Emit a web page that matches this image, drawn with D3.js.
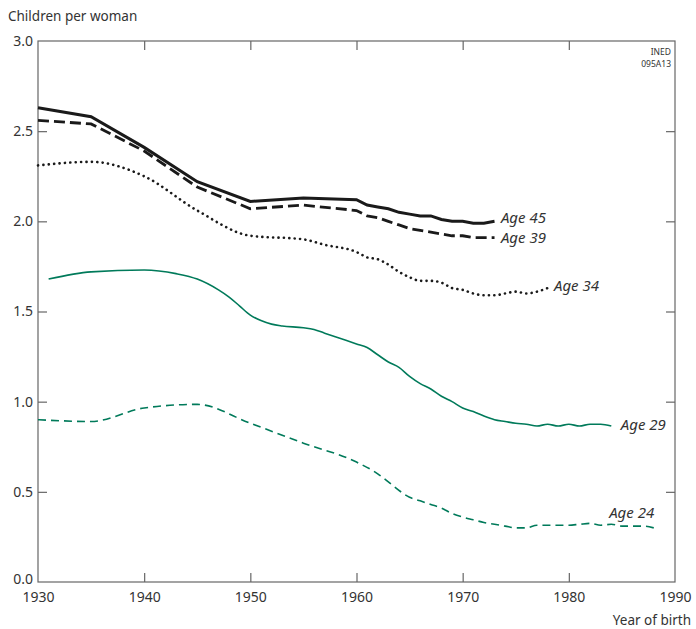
<!DOCTYPE html>
<html>
<head>
<meta charset="utf-8">
<script src="https://cdn.jsdelivr.net/npm/d3@7"></script>
<style>
  body { margin: 0; background: #fff; }
  text { font-family: "Noto Sans", "Open Sans", sans-serif; fill: #333; }
  .label { font-style: italic; font-size: 15px; }
</style>
</head>
<body>
<script>
// Data
var age45Years = [1930, 1935, 1940, 1945, 1950, 1955, 1960, 1961, 1962, 1963, 1964, 1965, 1966, 1967, 1968, 1969, 1970, 1971, 1972, 1973];
var age45Values = [2.63, 2.58, 2.41, 2.22, 2.11, 2.13, 2.12, 2.09, 2.08, 2.07, 2.05, 2.04, 2.03, 2.03, 2.01, 2.00, 2.00, 1.99, 1.99, 2.00];

var age39Years = [1930, 1935, 1940, 1945, 1950, 1955, 1960, 1961, 1962, 1963, 1964, 1965, 1966, 1967, 1968, 1969, 1970, 1971, 1972, 1973];
var age39Values = [2.56, 2.54, 2.39, 2.19, 2.07, 2.09, 2.06, 2.03, 2.02, 2.00, 1.98, 1.96, 1.95, 1.94, 1.93, 1.92, 1.92, 1.91, 1.91, 1.91];

var age34Years = [1930, 1935, 1940, 1945, 1950, 1955, 1957, 1960, 1961, 1962, 1963, 1964, 1965, 1966, 1967, 1968, 1969, 1970, 1971, 1972, 1973, 1974, 1975, 1976, 1977, 1978];
var age34Values = [2.31, 2.33, 2.25, 2.06, 1.92, 1.90, 1.87, 1.83, 1.80, 1.79, 1.76, 1.72, 1.69, 1.67, 1.67, 1.66, 1.63, 1.62, 1.60, 1.59, 1.59, 1.60, 1.61, 1.60, 1.61, 1.63];

var age29Years = [1931, 1935, 1940, 1943, 1945, 1947, 1948, 1949, 1950, 1951, 1952, 1953, 1955, 1956, 1957, 1958, 1959, 1960, 1961, 1962, 1963, 1964, 1965, 1966, 1967, 1968, 1969, 1970, 1971, 1972, 1973, 1974, 1975, 1976, 1977, 1978, 1979, 1980, 1981, 1982, 1983, 1984];
var age29Values = [1.68, 1.72, 1.73, 1.71, 1.68, 1.62, 1.58, 1.53, 1.48, 1.45, 1.43, 1.42, 1.41, 1.40, 1.38, 1.36, 1.34, 1.32, 1.30, 1.26, 1.22, 1.19, 1.14, 1.10, 1.07, 1.03, 1.00, 0.965, 0.945, 0.92, 0.90, 0.89, 0.88, 0.875, 0.865, 0.875, 0.865, 0.875, 0.865, 0.875, 0.875, 0.865];

var age24Years = [1930, 1935, 1940, 1945, 1950, 1955, 1960, 1962, 1963, 1965, 1966, 1967, 1968, 1969, 1970, 1971, 1972, 1973, 1974, 1975, 1976, 1977, 1978, 1979, 1980, 1981, 1982, 1983, 1984, 1985, 1986, 1987, 1988];
var age24Values = [0.90, 0.89, 0.965, 0.985, 0.88, 0.77, 0.665, 0.60, 0.555, 0.47, 0.45, 0.43, 0.41, 0.38, 0.36, 0.345, 0.33, 0.32, 0.31, 0.30, 0.30, 0.315, 0.315, 0.315, 0.315, 0.32, 0.325, 0.315, 0.32, 0.31, 0.31, 0.31, 0.30];

var xTicks = [1930, 1940, 1950, 1960, 1970, 1980, 1990];
var yTicks = [0.0, 0.5, 1.0, 1.5, 2.0, 2.5, 3.0];

var svgWidth = 696;
var svgHeight = 629;
var margin = { top: 41, right: 21, bottom: 47, left: 38 };
var chartWidth = svgWidth - margin.left - margin.right;
var chartHeight = svgHeight - margin.top - margin.bottom;

var svg = d3.select("body")
  .append("svg")
  .attr("width", svgWidth)
  .attr("height", svgHeight);

var chartGroup = svg.append("g")
  .attr("transform", `translate(${margin.left}, ${margin.top})`);

var xScale = d3.scaleLinear().domain([1930, 1990]).range([0, chartWidth]);
var yScale = d3.scaleLinear().domain([0, 3]).range([chartHeight, 0]);

var axisColor = "#666";

// frame
chartGroup.append("rect")
  .attr("width", chartWidth)
  .attr("height", chartHeight)
  .attr("fill", "none")
  .attr("stroke", axisColor)
  .attr("stroke-width", 1.2);

// inward ticks on all four sides
var tickLen = 9;
function inwardAxis(axisFn, scale, ticks, transform) {
  var g = chartGroup.append("g")
    .attr("transform", transform)
    .call(axisFn(scale).tickValues(ticks).tickSize(tickLen).tickFormat(""));
  g.select(".domain").remove();
  g.selectAll("line").attr("stroke", axisColor).attr("stroke-width", 1.2);
  return g;
}
inwardAxis(d3.axisTop, xScale, xTicks.slice(1, -1), `translate(0, ${chartHeight})`);
inwardAxis(d3.axisBottom, xScale, xTicks.slice(1, -1), "translate(0, 0)");
inwardAxis(d3.axisRight, yScale, yTicks.slice(1, -1), "translate(0, 0)");
inwardAxis(d3.axisLeft, yScale, yTicks.slice(1, -1), `translate(${chartWidth}, 0)`);

// tick labels
var bottomAxis = chartGroup.append("g")
  .attr("transform", `translate(0, ${chartHeight})`)
  .call(d3.axisBottom(xScale).tickValues(xTicks).tickSize(0).tickPadding(10).tickFormat(d3.format("d")));
bottomAxis.select(".domain").remove();
bottomAxis.selectAll("text").style("font-size", "14px").attr("fill", "#333");

var leftAxis = chartGroup.append("g")
  .call(d3.axisLeft(yScale).tickValues(yTicks).tickSize(0).tickPadding(5).tickFormat(d3.format(".1f")));
leftAxis.select(".domain").remove();
leftAxis.selectAll("text").style("font-size", "14px").attr("fill", "#333")
  .attr("dy", d => d === 0 ? "0.1em" : "0.32em");

// axis titles
svg.append("text")
  .attr("x", 8).attr("y", 21)
  .style("font-size", "13.5px")
  .text("Children per woman");

svg.append("text")
  .attr("x", 691).attr("y", 625)
  .attr("text-anchor", "end")
  .style("font-size", "13.5px")
  .text("Year of birth");

svg.append("text")
  .attr("x", 671).attr("y", 55)
  .attr("text-anchor", "end")
  .style("font-size", "8.5px")
  .text("INED");
svg.append("text")
  .attr("x", 671).attr("y", 67)
  .attr("text-anchor", "end")
  .style("font-size", "8.5px")
  .text("095A13");

// series
var green = "#007a5a";
var series = [
  { years: age24Years, values: age24Values, color: green, width: 1.6, dash: "8,5", curve: d3.curveMonotoneX, label: "Age 24", lx: 1983.8, ly: 0.385 },
  { years: age29Years, values: age29Values, color: green, width: 1.6, dash: null, curve: d3.curveMonotoneX, label: "Age 29", lx: 1984.9, ly: 0.87 },
  { years: age34Years, values: age34Values, color: "#1a1a1a", width: 2.6, dash: "0.1,5.3", curve: d3.curveMonotoneX, label: "Age 34", lx: 1978.6, ly: 1.645 },
  { years: age39Years, values: age39Values, color: "#1a1a1a", width: 2.8, dash: "11,5", curve: d3.curveLinear, label: "Age 39", lx: 1973.6, ly: 1.91 },
  { years: age45Years, values: age45Values, color: "#1a1a1a", width: 3, dash: null, curve: d3.curveLinear, label: "Age 45", lx: 1973.6, ly: 2.02 }
];

series.forEach(function(s) {
  var points = s.years.map(function(y, i) { return [y, s.values[i]]; });
  var drawLine = d3.line()
    .x(d => xScale(d[0]))
    .y(d => yScale(d[1]))
    .curve(s.curve);
  chartGroup.append("path")
    .attr("d", drawLine(points))
    .attr("fill", "none")
    .attr("stroke", s.color)
    .attr("stroke-width", s.width)
    .attr("stroke-linecap", s.dash && s.dash.startsWith("0.1") ? "round" : "butt")
    .attr("stroke-dasharray", s.dash);
  chartGroup.append("text")
    .attr("class", "label")
    .attr("x", xScale(s.lx))
    .attr("y", yScale(s.ly))
    .attr("dy", "0.35em")
    .text(s.label);
});
</script>
</body>
</html>
